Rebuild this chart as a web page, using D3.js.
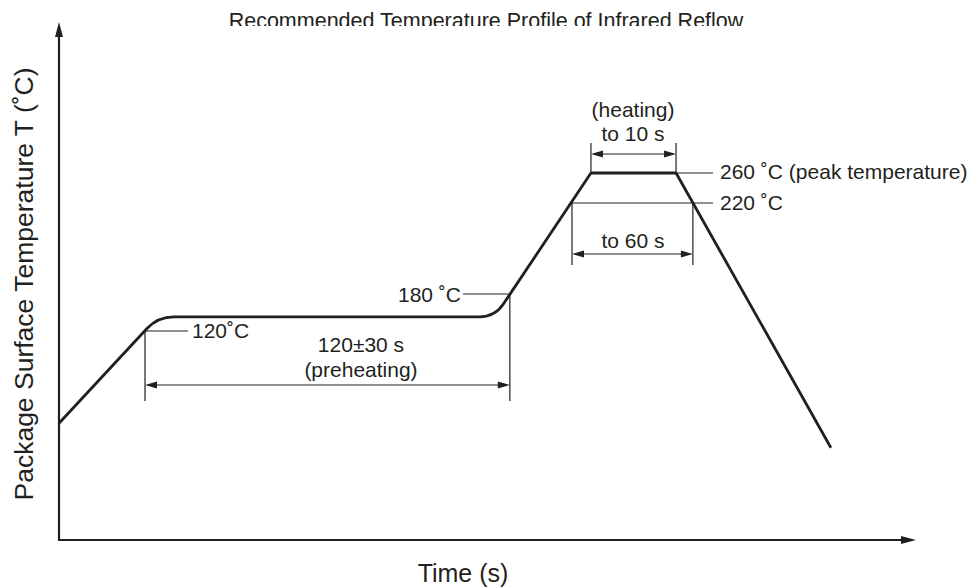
<!DOCTYPE html>
<html>
<head>
<meta charset="utf-8">
<script src="https://cdn.jsdelivr.net/npm/d3@7/dist/d3.min.js"></script>
<style>
  html, body { margin: 0; padding: 0; background: #fff; }
  svg { display: block; font-family: "Liberation Sans", Arial, Helvetica, sans-serif; }
</style>
</head>
<body>
<svg id="chart" width="972" height="588"></svg>
<script>
// ---- data (schematic reflow profile) ----
const titleText = "Recommended Temperature Profile of Infrared Reflow";
const xLabel = "Time (s)";
const yLabel = "Package Surface Temperature T (˚C)";

// profile vertices: time (schematic s) and temperature (˚C, schematic scale)
const profileTime = [0, 32.3, 142.4, 173.8, 201.6, 252.2];
const profileTemp = [67, 143, 143, 260, 260, 53];
// vertices drawn with a rounded knee
const roundedKnees = [1, 2];

// reference temperature levels
const levelTemps = [120, 180, 220, 260];
const levelLabels = ["120˚C", "180 ˚C", "220 ˚C", "260 ˚C (peak temperature)"];

// times where the profile crosses the reference levels
const t120 = 28.1, t180 = 147.3;
const t220Rise = 167.6, t220Fall = 207.1;
const tPeakStart = 173.8, tPeakEnd = 201.6;

const preheatText = ["120±30 s", "(preheating)"];
const peakText = ["(heating)", "to 10 s"];
const windowText = "to 60 s";

// ---- scales ----
const xDomainMax = 280;
const x = d3.scaleLinear().domain([0, xDomainMax]).range([59, 916]);
// schematic (not-to-scale) temperature axis
const y = d3.scaleLinear().domain([0, 120, 180, 220, 260]).range([540, 331, 294, 203, 173]);
const yAxisTop = 22;

const ink = "#231f20";
const svg = d3.select("#chart");

// ---- title (clipped at top like reference) ----
svg.append("clipPath").attr("id", "titleClip")
  .append("rect").attr("x", 0).attr("y", 0).attr("width", 972).attr("height", 26);
svg.append("text")
  .attr("clip-path", "url(#titleClip)")
  .attr("x", 486).attr("y", 28)
  .attr("text-anchor", "middle")
  .attr("font-size", 21.5)
  .attr("fill", ink)
  .text(titleText);

// ---- axes with arrowheads ----
const x0 = x(0), yBase = y(0), xEnd = x(xDomainMax);
svg.append("line").attr("x1", x0).attr("x2", x0).attr("y1", yBase + 1).attr("y2", yAxisTop + 10)
  .attr("stroke", ink).attr("stroke-width", 2.2);
svg.append("line").attr("x1", x0 - 1).attr("x2", xEnd - 10).attr("y1", yBase).attr("y2", yBase)
  .attr("stroke", ink).attr("stroke-width", 2.2);
svg.append("path")
  .attr("d", `M${x0},${yAxisTop} L${x0 - 4},${yAxisTop + 15} L${x0 + 4},${yAxisTop + 15} Z`)
  .attr("fill", ink);
svg.append("path")
  .attr("d", `M${xEnd},${yBase} L${xEnd - 15},${yBase - 4} L${xEnd - 15},${yBase + 4} Z`)
  .attr("fill", ink);

// axis labels
svg.append("text")
  .attr("x", 463).attr("y", 582)
  .attr("text-anchor", "middle")
  .attr("font-size", 25).attr("fill", ink)
  .text(xLabel);
svg.append("text")
  .attr("transform", `translate(33,${284}) rotate(-90)`)
  .attr("text-anchor", "middle")
  .attr("font-size", 26.5).attr("fill", ink)
  .text(yLabel);

// ---- profile line with rounded knees ----
const pts = profileTime.map((t, i) => [x(t), y(profileTemp[i])]);
const kneeRadius = {1: 16, 2: 15};
const p = d3.path();
p.moveTo(pts[0][0], pts[0][1]);
for (let i = 1; i < pts.length; i++) {
  if (roundedKnees.includes(i) && i < pts.length - 1) {
    const r = kneeRadius[i];
    const [ax, ay] = pts[i - 1], [bx, by] = pts[i], [cx, cy] = pts[i + 1];
    const d1 = Math.hypot(bx - ax, by - ay), d2 = Math.hypot(cx - bx, cy - by);
    const s = [bx - (bx - ax) * r / d1, by - (by - ay) * r / d1];
    const e = [bx + (cx - bx) * r / d2, by + (cy - by) * r / d2];
    p.lineTo(s[0], s[1]);
    p.quadraticCurveTo(bx, by, e[0], e[1]);
  } else {
    p.lineTo(pts[i][0], pts[i][1]);
  }
}
svg.append("path").attr("d", p.toString())
  .attr("fill", "none").attr("stroke", ink).attr("stroke-width", 2.8)
  .attr("stroke-linejoin", "round");

// ---- annotation helpers ----
const thin = 1.2;
function hline(x1, x2, yy) {
  svg.append("line").attr("x1", x1).attr("x2", x2).attr("y1", yy).attr("y2", yy)
    .attr("stroke", ink).attr("stroke-width", thin);
}
function vline(xx, y1, y2) {
  svg.append("line").attr("x1", xx).attr("x2", xx).attr("y1", y1).attr("y2", y2)
    .attr("stroke", ink).attr("stroke-width", thin);
}
function dimArrow(x1, x2, yy) {
  const L = 12, W = 3.5;
  hline(x1 + 4, x2 - 4, yy);
  svg.append("path").attr("d", `M${x1},${yy} L${x1 + L},${yy - W} L${x1 + L},${yy + W} Z`).attr("fill", ink);
  svg.append("path").attr("d", `M${x2},${yy} L${x2 - L},${yy - W} L${x2 - L},${yy + W} Z`).attr("fill", ink);
}
function label(txt, xx, yy, anchor) {
  svg.append("text").attr("x", xx).attr("y", yy)
    .attr("text-anchor", anchor || "start")
    .attr("font-size", 21).attr("fill", ink)
    .text(txt);
}

// 120 ˚C
const y120 = y(levelTemps[0]);
hline(x(t120), 188, y120);
label(levelLabels[0], 192, 338);
// 180 ˚C
const y180 = y(levelTemps[1]);
hline(463, x(t180), y180);
label(levelLabels[1], 461, 302, "end");
// preheating dimension
const yPre = 385;
vline(x(t120), y120, 401);
vline(x(t180), y180, 401);
dimArrow(x(t120), x(t180), yPre);
label(preheatText[0], 361, 352, "middle");
label(preheatText[1], 361, 377, "middle");

// 260 ˚C peak
const y260 = y(levelTemps[3]);
hline(x(tPeakEnd), 713, y260);
label(levelLabels[3], 720, 179);
vline(x(tPeakStart), 143, y260);
vline(x(tPeakEnd), 143, y260);
dimArrow(x(tPeakStart), x(tPeakEnd), 154);
label(peakText[0], 633, 117, "middle");
label(peakText[1], 633, 141, "middle");

// 220 ˚C window
const y220 = y(levelTemps[2]);
hline(x(t220Rise), 713, y220);
label(levelLabels[2], 720, 210);
vline(x(t220Rise), y220, 265);
vline(x(t220Fall), y220, 265);
dimArrow(x(t220Rise), x(t220Fall), 254);
label(windowText, 633, 248, "middle");
</script>
</body>
</html>
